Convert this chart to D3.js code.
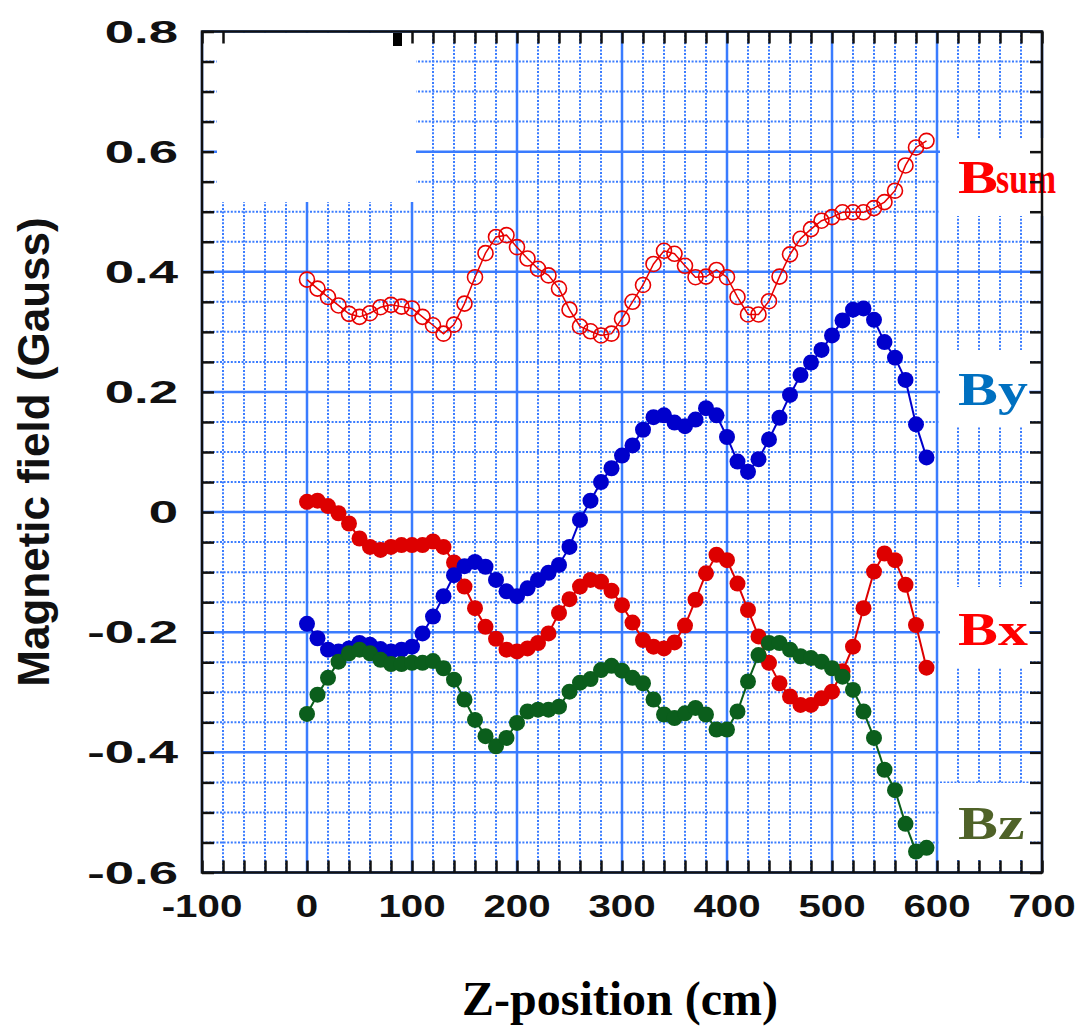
<!DOCTYPE html>
<html>
<head>
<meta charset="utf-8">
<script src="https://cdn.jsdelivr.net/npm/d3@7"></script>
<style>
  body { margin: 0; background: #fff; }
  svg { display: block; }
</style>
</head>
<body>
<div id="field-chart"></div>
<script>
// magnetic field components along the z axis
//``````````````````````````````````````//

// z positions (cm) of the probe readings
let zPos = [0, 10, 20, 30, 40, 50, 60, 70, 80, 90,
    100, 110, 120, 130, 140, 150, 160, 170, 180, 190,
    200, 210, 220, 230, 240, 250, 260, 270, 280, 290,
    300, 310, 320, 330, 340, 350, 360, 370, 380, 390,
    400, 410, 420, 430, 440, 450, 460, 470, 480, 490,
    500, 510, 520, 530, 540, 550, 560, 570, 580, 590]

// field readings in Gauss
let bSum = [0.387, 0.372, 0.358, 0.344, 0.330, 0.325, 0.331, 0.341, 0.345, 0.342,
    0.339, 0.325, 0.311, 0.297, 0.312, 0.347, 0.391, 0.431, 0.458, 0.461,
    0.441, 0.422, 0.405, 0.394, 0.372, 0.337, 0.309, 0.301, 0.294, 0.297,
    0.322, 0.350, 0.378, 0.413, 0.435, 0.430, 0.410, 0.391, 0.392, 0.403,
    0.391, 0.358, 0.329, 0.329, 0.351, 0.392, 0.429, 0.455, 0.471, 0.485,
    0.491, 0.499, 0.499, 0.499, 0.506, 0.516, 0.535, 0.577, 0.607, 0.618]

let bY = [-0.186, -0.210, -0.229, -0.232, -0.227, -0.218, -0.221, -0.228, -0.232, -0.229,
    -0.224, -0.202, -0.174, -0.140, -0.105, -0.090, -0.083, -0.091, -0.113, -0.132,
    -0.140, -0.127, -0.113, -0.101, -0.088, -0.058, -0.013, 0.019, 0.050, 0.073,
    0.094, 0.111, 0.137, 0.158, 0.161, 0.149, 0.143, 0.154, 0.173, 0.161,
    0.125, 0.084, 0.067, 0.088, 0.121, 0.157, 0.195, 0.228, 0.249, 0.270,
    0.294, 0.319, 0.337, 0.339, 0.320, 0.283, 0.257, 0.220, 0.146, 0.091]

let bX = [0.017, 0.019, 0.010, -0.002, -0.019, -0.044, -0.058, -0.063, -0.058, -0.055,
    -0.055, -0.055, -0.049, -0.058, -0.084, -0.124, -0.160, -0.191, -0.211, -0.229,
    -0.232, -0.227, -0.218, -0.202, -0.168, -0.145, -0.124, -0.113, -0.116, -0.131,
    -0.155, -0.184, -0.213, -0.224, -0.227, -0.217, -0.189, -0.146, -0.102, -0.071,
    -0.080, -0.119, -0.163, -0.207, -0.251, -0.285, -0.307, -0.321, -0.321, -0.310,
    -0.299, -0.265, -0.224, -0.160, -0.099, -0.069, -0.080, -0.121, -0.188, -0.259]

let bZ = [-0.336, -0.304, -0.276, -0.249, -0.235, -0.229, -0.235, -0.246, -0.253, -0.253,
    -0.251, -0.251, -0.248, -0.260, -0.279, -0.312, -0.346, -0.373, -0.390, -0.376,
    -0.351, -0.332, -0.329, -0.329, -0.324, -0.299, -0.284, -0.278, -0.263, -0.256,
    -0.264, -0.276, -0.285, -0.312, -0.337, -0.343, -0.335, -0.326, -0.337, -0.362,
    -0.362, -0.332, -0.282, -0.238, -0.218, -0.218, -0.229, -0.240, -0.243, -0.249,
    -0.260, -0.274, -0.296, -0.332, -0.376, -0.429, -0.463, -0.519, -0.565, -0.559]

// tick labels
let xTickLabels = [-100, 0, 100, 200, 300, 400, 500, 600, 700]
let yTickLabels = [0.8, 0.6, 0.4, 0.2, 0, -0.2, -0.4, -0.6]

let width = 1079
let height = 1029

let canvas = d3.select('#field-chart').append('svg')
    .attr('width', width)
    .attr('height', height)

let x = d3.scaleLinear().domain([-100, 700]).range([202, 1042])
let y = d3.scaleLinear().domain([-0.6, 0.8]).range([872.5, 31.5])

let gridBlue = '#3a7cff'

// checks if v is (close to) a multiple of step
let isMultiple = (v, step) => Math.abs(Math.round(v / step) * step - v) < 1e-9

let drawGrid = () => {
    let grid = canvas.append('g')

    // dotted minor lines every 20 cm / 0.05 G
    grid.selectAll('.vminor')
        .data(x.ticks(40).filter(v => !isMultiple(v, 100)))
        .enter().append('line')
        .attr('x1', d => x(d)).attr('x2', d => x(d))
        .attr('y1', y(0.8)).attr('y2', y(-0.6))
        .attr('stroke', gridBlue)
        .attr('stroke-width', 2)
        .attr('stroke-dasharray', '2,1.6')

    grid.selectAll('.hminor')
        .data(y.ticks(28).filter(v => !isMultiple(v, 0.2)))
        .enter().append('line')
        .attr('y1', d => y(d)).attr('y2', d => y(d))
        .attr('x1', x(-100)).attr('x2', x(700))
        .attr('stroke', gridBlue)
        .attr('stroke-width', 2)
        .attr('stroke-dasharray', '2,1.6')

    // solid major lines
    grid.selectAll('.vmajor')
        .data(x.ticks(8))
        .enter().append('line')
        .attr('x1', d => x(d)).attr('x2', d => x(d))
        .attr('y1', y(0.8)).attr('y2', y(-0.6))
        .attr('stroke', gridBlue)
        .attr('stroke-width', 2.5)

    grid.selectAll('.hmajor')
        .data(y.ticks(7))
        .enter().append('line')
        .attr('y1', d => y(d)).attr('y2', d => y(d))
        .attr('x1', x(-100)).attr('x2', x(700))
        .attr('stroke', gridBlue)
        .attr('stroke-width', 2.5)
}

let drawFrame = () => {
    // inward ticks on all four sides, without labels
    let xMinor = x.ticks(40)
    let yMinor = y.ticks(28)
    let tickLen = 12

    let bottom = canvas.append('g')
        .attr('transform', `translate(0,${y(-0.6)})`)
        .call(d3.axisBottom(x).tickValues(xMinor).tickSizeInner(-tickLen).tickSizeOuter(0).tickFormat(''))
    // top ticks hidden behind the white box in the corner
    let top = canvas.append('g')
        .attr('transform', `translate(0,${y(0.8)})`)
        .call(d3.axisTop(x).tickValues(xMinor.filter(v => x(v) < 225 || x(v) > 405))
            .tickSizeInner(-tickLen).tickSizeOuter(0).tickFormat(''))
    let left = canvas.append('g')
        .attr('transform', `translate(${x(-100)},0)`)
        .call(d3.axisLeft(y).tickValues(yMinor).tickSizeInner(-tickLen).tickSizeOuter(0).tickFormat(''))
    let right = canvas.append('g')
        .attr('transform', `translate(${x(700)},0)`)
        .call(d3.axisRight(y).tickValues(yMinor).tickSizeInner(-tickLen).tickSizeOuter(0).tickFormat(''))

    canvas.selectAll('.domain').remove()
    canvas.selectAll('.tick line')
        .attr('stroke', '#111')
        .attr('stroke-width', 2.5)

    canvas.append('rect')
        .attr('x', x(-100))
        .attr('y', y(0.8))
        .attr('width', x(700) - x(-100))
        .attr('height', y(-0.6) - y(0.8))
        .attr('fill', 'none')
        .attr('stroke', '#111')
        .attr('stroke-width', 2.5)
}

let drawSeries = () => {
    let line = d3.line()
        .x(d => x(d[0]))
        .y(d => y(d[1]))

    let series = [
        { name: 'Bx', values: bX, color: '#dd0000', open: false },
        { name: 'By', values: bY, color: '#0000cc', open: false },
        { name: 'Bz', values: bZ, color: '#0b5e1c', open: false },
        { name: 'Bsum', values: bSum, color: '#e80000', open: true }
    ]

    series.forEach(s => {
        let pts = zPos.map((z, i) => [z, s.values[i]])
        let g = canvas.append('g')

        g.append('path')
            .datum(pts)
            .attr('d', line)
            .attr('fill', 'none')
            .attr('stroke', s.color)
            .attr('stroke-width', s.open ? 1.5 : 2)

        g.selectAll('circle')
            .data(pts)
            .enter()
            .append('circle')
            .attr('cx', d => x(d[0]))
            .attr('cy', d => y(d[1]))
            .attr('r', s.open ? 7.5 : 8)
            .attr('fill', s.open ? 'none' : s.color)
            .attr('stroke', s.open ? s.color : 'none')
            .attr('stroke-width', 1.6)
    })
}

let drawLabels = () => {
    // white patch in the upper left corner
    canvas.append('rect')
        .attr('x', 217).attr('y', 33)
        .attr('width', 199).attr('height', 169)
        .attr('fill', '#fff')
    canvas.append('rect')
        .attr('x', 393).attr('y', 33)
        .attr('width', 9).attr('height', 13)
        .attr('fill', '#000')

    // legend boxes to the right of the curves
    let legend = [
        { main: 'B', sub: 'sum', color: '#ff0000', top: 138, bottom: 216, right: 1062, base: 193 },
        { main: 'B', sub: 'y', color: '#0070c0', top: 350, bottom: 427, right: 1029, base: 405 },
        { main: 'B', sub: 'x', color: '#ff0000', top: 587, bottom: 667, right: 1029, base: 645 },
        { main: 'B', sub: 'z', color: '#4f6228', top: 783, bottom: 860, right: 1029, base: 839 }
    ]
    legend.forEach(l => {
        canvas.append('rect')
            .attr('x', 940).attr('y', l.top)
            .attr('width', l.right - 940).attr('height', l.bottom - l.top)
            .attr('fill', '#fff')
        let t = canvas.append('text')
            .attr('transform', `translate(958,${l.base}) scale(1.3,1)`)
            .style('font-family', '"Liberation Serif", "Times New Roman", serif')
            .style('font-weight', 'bold')
            .style('font-size', '46px')
            .attr('fill', l.color)
        t.append('tspan').text(l.main)
        if (l.sub.length == 1) {
            t.append('tspan').text(l.sub)
        } else {
            // the longer subscript is squeezed to fit next to the frame
            canvas.append('text')
                .attr('x', 996)
                .attr('y', l.base)
                .attr('textLength', 60)
                .attr('lengthAdjust', 'spacingAndGlyphs')
                .style('font-family', '"Liberation Serif", "Times New Roman", serif')
                .style('font-weight', 'bold')
                .style('font-size', '44px')
                .attr('fill', l.color)
                .text(l.sub)
        }
    })

    // tick labels (wide bold sans)
    canvas.selectAll('.ylab')
        .data(yTickLabels)
        .enter()
        .append('text')
        .attr('transform', d => `translate(178,${y(d) + 11}) scale(1.7,1)`)
        .attr('text-anchor', 'end')
        .style('font-family', '"Liberation Sans", Arial, sans-serif')
        .style('font-weight', 'bold')
        .style('font-size', '31px')
        .attr('fill', '#111')
        .text(d => d)

    canvas.selectAll('.xlab')
        .data(xTickLabels)
        .enter()
        .append('text')
        .attr('transform', d => `translate(${x(d)},917) scale(1.3,1)`)
        .attr('text-anchor', 'middle')
        .style('font-family', '"Liberation Sans", Arial, sans-serif')
        .style('font-weight', 'bold')
        .style('font-size', '31px')
        .attr('fill', '#111')
        .text(d => d)

    // axis titles
    canvas.append('text')
        .attr('transform', 'translate(49,452) rotate(-90)')
        .attr('text-anchor', 'middle')
        .style('font-family', '"Liberation Sans", Arial, sans-serif')
        .style('font-weight', 'bold')
        .style('font-size', '44px')
        .attr('fill', '#111')
        .text('Magnetic field (Gauss)')

    canvas.append('text')
        .attr('x', 620)
        .attr('y', 1015)
        .attr('text-anchor', 'middle')
        .style('font-family', '"Liberation Serif", "Times New Roman", serif')
        .style('font-weight', 'bold')
        .style('font-size', '48px')
        .attr('fill', '#000')
        .text('Z-position (cm)')
}

drawGrid()
drawSeries()
drawLabels()
drawFrame()
</script>
</body>
</html>
